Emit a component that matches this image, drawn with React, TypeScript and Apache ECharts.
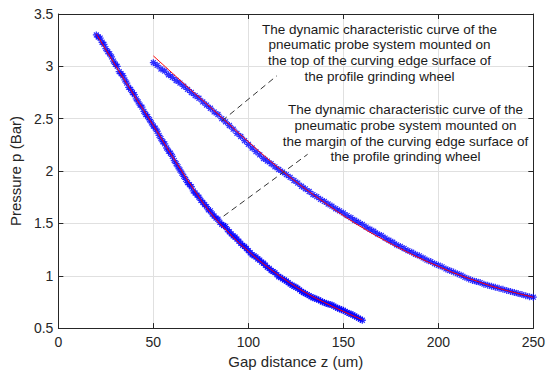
import React, { useEffect, useRef } from "react";
import * as echarts from "echarts";

// ---- data ----
const X_MIN = 0, X_MAX = 250, X_STEP = 50;
const Y_MIN = 0.5, Y_MAX = 3.5, Y_STEP = 0.5;

// measured points, probe mounted on the margin (left curve)
const marginMeasured: [number, number][] = [
  [20, 3.30], [21, 3.28], [22, 3.27], [23, 3.23], [24, 3.21], [25, 3.17], [26, 3.14], [27, 3.12],
  [28, 3.09], [29, 3.05], [30, 3.02], [31, 3.00], [32, 2.95], [33, 2.93], [34, 2.91], [35, 2.87],
  [36, 2.84], [37, 2.80], [38, 2.78], [39, 2.75], [40, 2.73], [41, 2.69], [42, 2.66], [43, 2.63],
  [44, 2.61], [45, 2.57], [46, 2.54], [47, 2.52], [48, 2.49], [49, 2.46], [50, 2.43], [51, 2.41],
  [52, 2.38], [53, 2.34], [54, 2.31], [55, 2.28], [56, 2.26], [57, 2.22], [58, 2.19], [59, 2.17],
  [60, 2.14], [61, 2.10], [62, 2.07], [63, 2.04], [64, 2.01], [65, 1.98], [66, 1.95], [67, 1.92],
  [68, 1.89], [69, 1.87], [70, 1.85], [71, 1.81], [72, 1.79], [73, 1.77], [74, 1.75], [75, 1.72],
  [76, 1.70], [77, 1.68], [78, 1.66], [79, 1.63], [80, 1.62], [81, 1.59], [82, 1.57], [83, 1.55],
  [84, 1.54], [85, 1.51], [86, 1.49], [87, 1.48], [88, 1.47], [89, 1.44], [90, 1.42], [91, 1.40],
  [92, 1.38], [93, 1.37], [94, 1.35], [95, 1.33], [96, 1.31], [97, 1.29], [98, 1.28], [99, 1.26],
  [100, 1.24], [101, 1.22], [102, 1.20], [103, 1.19], [104, 1.18], [105, 1.16], [106, 1.15], [107, 1.13],
  [108, 1.12], [109, 1.10], [110, 1.08], [111, 1.07], [112, 1.05], [113, 1.04], [114, 1.03], [115, 1.01],
  [116, 0.99], [117, 0.985], [118, 0.97], [119, 0.96], [120, 0.95], [121, 0.935], [122, 0.92], [123, 0.91],
  [124, 0.90], [125, 0.89], [126, 0.88], [127, 0.865], [128, 0.85], [129, 0.84], [130, 0.83], [131, 0.82],
  [132, 0.81], [133, 0.80], [134, 0.79], [135, 0.785], [136, 0.775], [137, 0.77], [138, 0.76], [139, 0.75],
  [140, 0.745], [141, 0.735], [142, 0.73], [143, 0.725], [144, 0.72], [145, 0.71], [146, 0.70], [147, 0.69],
  [148, 0.685], [149, 0.675], [150, 0.67], [151, 0.66], [152, 0.65], [153, 0.64], [154, 0.635], [155, 0.625],
  [156, 0.615], [157, 0.605], [158, 0.595], [159, 0.585], [160, 0.575],
];

// fitted curve, margin
const marginFit: [number, number][] = [
  [20, 3.31], [30, 3.01], [40, 2.72], [50, 2.435], [60, 2.14], [70, 1.86], [80, 1.605],
  [90, 1.405], [100, 1.235], [110, 1.085], [120, 0.955], [130, 0.84], [140, 0.745], [150, 0.66], [160, 0.58],
];

// measured points, probe mounted on the top (right curve)
const topMeasured: [number, number][] = [
  [50, 3.035], [52, 3.01], [54, 2.975], [56, 2.955], [58, 2.92], [60, 2.895], [62, 2.865], [64, 2.84],
  [66, 2.81], [68, 2.78], [70, 2.75], [72, 2.72], [74, 2.695], [76, 2.66], [78, 2.63], [80, 2.60],
  [82, 2.565], [84, 2.54], [86, 2.50], [88, 2.47], [90, 2.435], [92, 2.40], [94, 2.36], [96, 2.33],
  [98, 2.29], [100, 2.255], [102, 2.22], [104, 2.185], [106, 2.155], [108, 2.12], [110, 2.095], [112, 2.07],
  [114, 2.04], [116, 2.015], [118, 1.99], [120, 1.965], [122, 1.94], [124, 1.91], [126, 1.885], [128, 1.855],
  [130, 1.83], [132, 1.805], [134, 1.775], [136, 1.755], [138, 1.73], [140, 1.71], [142, 1.685], [144, 1.665],
  [146, 1.64], [148, 1.62], [150, 1.60], [152, 1.575], [154, 1.555], [156, 1.53], [158, 1.51], [160, 1.49],
  [162, 1.465], [164, 1.445], [166, 1.425], [168, 1.40], [170, 1.385], [172, 1.36], [174, 1.34], [176, 1.32],
  [178, 1.295], [180, 1.28], [182, 1.26], [184, 1.24], [186, 1.225], [188, 1.205], [190, 1.19], [192, 1.17],
  [194, 1.15], [196, 1.135], [198, 1.115], [200, 1.10], [202, 1.085], [204, 1.065], [206, 1.05], [208, 1.035],
  [210, 1.02], [212, 1.005], [214, 0.985], [216, 0.97], [218, 0.955], [220, 0.945], [222, 0.935], [224, 0.92],
  [226, 0.91], [228, 0.90], [230, 0.89], [232, 0.88], [234, 0.87], [236, 0.86], [238, 0.85], [240, 0.84],
  [242, 0.83], [244, 0.82], [246, 0.81], [248, 0.80], [250, 0.795],
];

// fitted curve, top
const topFit: [number, number][] = [
  [50, 3.10], [60, 2.935], [70, 2.77], [80, 2.61], [90, 2.445], [100, 2.28], [110, 2.12], [120, 1.97],
  [130, 1.83], [140, 1.70], [150, 1.575], [160, 1.46], [170, 1.355], [180, 1.26], [190, 1.17], [200, 1.09],
  [210, 1.015], [220, 0.95], [230, 0.89], [240, 0.84], [250, 0.795],
];

// annotation leader lines (data coordinates)
const leaderTop: [number, number][] = [[86.2, 2.48], [115, 2.91]];
const leaderMargin: [number, number][] = [[87, 1.57], [131.2, 2.16]];

const NOTE_TOP = "The dynamic characteristic curve of the\npneumatic probe system mounted on\nthe top of the curving edge surface of\nthe profile grinding wheel";
const NOTE_MARGIN = "The dynamic characteristic curve of the\npneumatic probe system mounted on\nthe margin of the curving edge surface of\nthe profile grinding wheel";

const X_NAME = "Gap distance z (um)";
const Y_NAME = "Pressure p (Bar)";

const FONT = "Arial, 'Liberation Sans', Helvetica, sans-serif";
const AXIS_COLOR = "#262626";
const GRID_COLOR = "#e0e0e0";
const ASTERISK = "path://M0,-1L0,1M-1,0L1,0M-0.7,-0.7L0.7,0.7M-0.7,0.7L0.7,-0.7";

export default function App() {
  const ref = useRef<HTMLDivElement>(null);

  useEffect(() => {
    if (!ref.current) return;
    const chart = echarts.init(ref.current, undefined, { renderer: "svg", width: 548, height: 374 });

    const mainX = {
      type: "value" as const,
      min: X_MIN,
      max: X_MAX,
      interval: X_STEP,
      position: "bottom" as const,
      axisLine: { show: true, onZero: false, lineStyle: { color: AXIS_COLOR, width: 1 } },
      axisTick: { show: true, inside: true, length: 5, lineStyle: { color: AXIS_COLOR } },
      axisLabel: { margin: 7, fontSize: 14, color: AXIS_COLOR, fontFamily: FONT },
      splitLine: { show: true, lineStyle: { color: GRID_COLOR, width: 1 } },
      name: X_NAME,
      nameLocation: "middle" as const,
      nameGap: 23,
      nameTextStyle: { fontSize: 15, color: AXIS_COLOR, fontFamily: FONT },
    };
    const topX = {
      type: "value" as const,
      min: X_MIN,
      max: X_MAX,
      interval: X_STEP,
      position: "top" as const,
      axisLine: { show: true, onZero: false, lineStyle: { color: AXIS_COLOR, width: 1 } },
      axisTick: { show: true, inside: true, length: 5, lineStyle: { color: AXIS_COLOR } },
      axisLabel: { show: false },
      splitLine: { show: false },
    };
    const mainY = {
      type: "value" as const,
      min: Y_MIN,
      max: Y_MAX,
      interval: Y_STEP,
      position: "left" as const,
      axisLine: { show: true, onZero: false, lineStyle: { color: AXIS_COLOR, width: 1 } },
      axisTick: { show: true, inside: true, length: 5, lineStyle: { color: AXIS_COLOR } },
      axisLabel: { margin: 5, fontSize: 14, color: AXIS_COLOR, fontFamily: FONT },
      splitLine: { show: true, lineStyle: { color: GRID_COLOR, width: 1 } },
      name: Y_NAME,
      nameLocation: "middle" as const,
      nameGap: 30,
      nameRotate: 90,
      nameTextStyle: { fontSize: 15, color: AXIS_COLOR, fontFamily: FONT },
    };
    const rightY = {
      type: "value" as const,
      min: Y_MIN,
      max: Y_MAX,
      interval: Y_STEP,
      position: "right" as const,
      axisLine: { show: true, onZero: false, lineStyle: { color: AXIS_COLOR, width: 1 } },
      axisTick: { show: true, inside: true, length: 5, lineStyle: { color: AXIS_COLOR } },
      axisLabel: { show: false },
      splitLine: { show: false },
    };

    const scatter = (data: [number, number][]) => ({
      type: "scatter" as const,
      data,
      symbol: ASTERISK,
      symbolSize: 7,
      itemStyle: { color: "#0000ff", borderColor: "#0000ff", borderWidth: 1.3 },
      z: 2,
      silent: true,
    });
    const fit = (data: [number, number][]) => ({
      type: "line" as const,
      data,
      smooth: true,
      showSymbol: false,
      symbol: "none",
      lineStyle: { color: "#ff0000", width: 1 },
      z: 3,
      silent: true,
    });
    const leader = (data: [number, number][]) => ({
      type: "line" as const,
      data,
      showSymbol: false,
      symbol: "none",
      lineStyle: { color: "#333333", width: 1, type: [6, 4] },
      z: 4,
      silent: true,
    });

    chart.setOption({
      animation: false,
      backgroundColor: "#ffffff",
      grid: { left: 56.5, width: 479.5, top: 14, height: 318, containLabel: false },
      xAxis: [mainX, topX],
      yAxis: [mainY, rightY],
      series: [
        scatter(marginMeasured),
        scatter(topMeasured),
        fit(marginFit),
        fit(topFit),
        leader(leaderTop),
        leader(leaderMargin),
      ],
      graphic: [
        {
          type: "text",
          x: 379.5,
          y: 21.5,
          z: 10,
          style: {
            text: NOTE_TOP,
            fill: "#1a1a1a",
            fontSize: 13.5,
            fontFamily: FONT,
            align: "center",
            verticalAlign: "top",
            lineHeight: 15.6,
          },
        },
        {
          type: "text",
          x: 405.5,
          y: 102.2,
          z: 10,
          style: {
            text: NOTE_MARGIN,
            fill: "#1a1a1a",
            fontSize: 13.5,
            fontFamily: FONT,
            align: "center",
            verticalAlign: "top",
            lineHeight: 15.6,
          },
        },
      ],
    });

    return () => chart.dispose();
  }, []);

  return (
    <div
      ref={ref}
      style={{ position: "fixed", left: 0, top: 0, width: 548, height: 374, background: "#fff" }}
    />
  );
}
